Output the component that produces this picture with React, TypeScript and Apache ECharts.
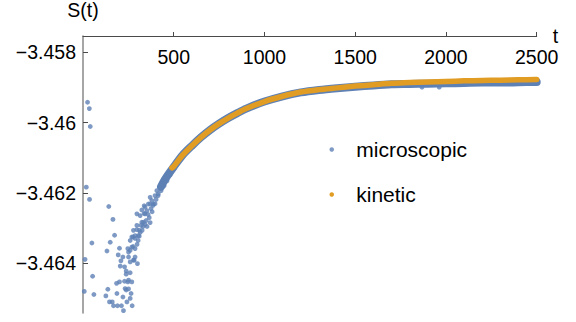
import React, { useEffect, useRef } from "react";
import * as echarts from "echarts";

// ---- data ----
const xTicks = [500, 1000, 1500, 2000, 2500];
const yTicks = [-3.464, -3.462, -3.46, -3.458];

// microscopic: scattered individual samples
const microT = [
  25, 35, 40, 18, 36, 49, 11, 53, 7, 60,
  142, 165, 174, 150, 132, 201, 194, 220, 209, 205,
  238, 185, 201, 229, 247, 137, 232, 251, 187, 265,
  126, 220, 260, 146, 161, 168, 190, 212, 271, 242,
  223, 238, 260, 229, 251, 238, 269, 282, 269, 260,
  278, 300, 251, 287, 247, 260, 278, 297, 275, 287,
  305, 311, 297, 320, 269, 260, 287, 251, 315, 297,
  324, 333, 342, 324, 337, 342, 352, 360, 370, 379,
  388, 370, 397, 407, 415, 425, 434, 443, 452, 470,
  480, 1868, 1963,
  276, 304, 315, 331, 348, 359, 375, 386, 403, 414,
  430, 447, 463, 480, 491, 310, 326, 342, 365, 381,
  397, 298, 287, 337, 353, 370,
];
const microS = [
  -3.45942, -3.4596, -3.46011, -3.46184, -3.46219, -3.46343, -3.4639, -3.46438, -3.46481, -3.4649,
  -3.46239, -3.46276, -3.46321, -3.46341, -3.46366, -3.46358, -3.46377, -3.46383, -3.46394, -3.46409,
  -3.46423, -3.46458, -3.46454, -3.46452, -3.46454, -3.46475, -3.46473, -3.46474, -3.46487, -3.46487,
  -3.46494, -3.46497, -3.46501, -3.46511, -3.46511, -3.46522, -3.46522, -3.46522, -3.46522, -3.46511,
  -3.46536, -3.46432, -3.46428, -3.46411, -3.46449, -3.46477, -3.46454, -3.46392, -3.46355, -3.46397,
  -3.46392, -3.46402, -3.46369, -3.46359, -3.46359, -3.46336, -3.46307, -3.46293, -3.46326, -3.46322,
  -3.46322, -3.46307, -3.46305, -3.46293, -3.46326, -3.46364, -3.46383, -3.46383, -3.46265, -3.4626,
  -3.46284, -3.46284, -3.4626, -3.46249, -3.46237, -3.46241, -3.46251, -3.46232, -3.46232, -3.46222,
  -3.46232, -3.46213, -3.46208, -3.46194, -3.46203, -3.46185, -3.46175, -3.4617, -3.46161, -3.46147,
  -3.46139, -3.45899, -3.45899,
  -3.46353, -3.46336, -3.46313, -3.46296, -3.46279, -3.46262, -3.46245, -3.46236, -3.46219, -3.46208,
  -3.46194, -3.4618, -3.46166, -3.46149, -3.46137, -3.46324, -3.46307, -3.4629, -3.46271, -3.46254,
  -3.46231, -3.46347, -3.4633, -3.46259, -3.46296, -3.46285,
];

// microscopic: the dense run of samples along the relaxation curve
const bandT = [430, 450, 500, 550, 600, 650, 700, 750, 800, 850, 900, 1000, 1100, 1200, 1300, 1400, 1500, 1600, 1700, 1800, 1900, 2000, 2100, 2200, 2300, 2400, 2500];
const bandS = [
  -3.46183, -3.46163, -3.46126, -3.46092, -3.46066, -3.46042, -3.46021, -3.46003, -3.45987, -3.45973,
  -3.4596, -3.4594, -3.45925, -3.45914, -3.45907, -3.45902, -3.45898, -3.45894, -3.45891, -3.4589,
  -3.45889, -3.45888, -3.45887, -3.45886, -3.45886, -3.45885, -3.45884,
];

// kinetic
const kinT = [490, 500, 550, 600, 650, 700, 750, 800, 850, 900, 1000, 1100, 1200, 1300, 1400, 1500, 1600, 1700, 1800, 1900, 2000, 2100, 2200, 2300, 2400, 2500];
const kinS = [
  -3.46129, -3.46125, -3.46092, -3.46066, -3.46042, -3.46021, -3.46003, -3.45987, -3.45973, -3.4596,
  -3.4594, -3.45925, -3.45913, -3.45906, -3.45901, -3.45896, -3.45892, -3.45888, -3.45886, -3.45884,
  -3.45883, -3.45881, -3.4588, -3.45879, -3.45878, -3.45877,
];

const BLUE = "#5E81B5";
const ORANGE = "#E19C24";
const FONT = "'Liberation Sans', Arial, sans-serif";

const zip = (a: number[], b: number[]) => a.map((v, i) => [v, b[i]]);

export default function App() {
  const ref = useRef<HTMLDivElement>(null);
  useEffect(() => {
    if (!ref.current) return;
    const chart = echarts.init(ref.current, null, { renderer: "svg" });
    chart.setOption({
      animation: false,
      backgroundColor: "#fff",
      grid: { left: 83, right: 39.3, top: 34.5, bottom: 9, containLabel: false },
      legend: {
        orient: "vertical",
        left: 324.5,
        top: 132.5,
        itemWidth: 39,
        itemHeight: 4.5,
        itemGap: 21,
        icon: "circle",
        data: ["microscopic", "kinetic"],
        textStyle: { fontSize: 21, fontFamily: FONT, color: "#000", lineHeight: 24 },
        selectedMode: false,
      },
      xAxis: {
        type: "value",
        position: "top",
        min: 0,
        max: 2500,
        name: "t",
        nameLocation: "end",
        nameGap: 16,
        nameTextStyle: { fontSize: 19.5, fontFamily: FONT, color: "#000", verticalAlign: "middle" },
        axisLine: { show: true, onZero: false, lineStyle: { color: "#4a4a4a", width: 1 } },
        axisTick: { show: true, inside: false, length: 4, customValues: xTicks, lineStyle: { color: "#4a4a4a" } },
        axisLabel: {
          inside: true,
          margin: 10.5,
          customValues: xTicks,
          fontSize: 19.5,
          fontFamily: FONT,
          color: "#000",
          formatter: (v: number) => String(v),
        },
        splitLine: { show: false },
      },
      yAxis: {
        type: "value",
        min: -3.465426,
        max: -3.457532,
        name: "S(t)",
        nameLocation: "end",
        nameGap: 16,
        nameTextStyle: { fontSize: 19.5, fontFamily: FONT, color: "#000" },
        axisLine: { show: true, onZero: false, lineStyle: { color: "#888", width: 1.5 } },
        axisTick: { show: true, inside: true, length: 5, customValues: yTicks, lineStyle: { color: "#4a4a4a" } },
        axisLabel: {
          margin: 7,
          customValues: yTicks,
          fontSize: 19.5,
          fontFamily: FONT,
          color: "#000",
          formatter: (v: number) => "\u2212" + Math.abs(v).toFixed(3).replace(/0+$/, ""),
        },
        splitLine: { show: false },
      },
      series: [
        {
          name: "microscopic",
          type: "scatter",
          data: zip(microT, microS),
          symbolSize: 4.8,
          itemStyle: { color: BLUE },
          silent: true,
        },
        {
          name: "microscopic",
          type: "line",
          data: zip(bandT, bandS),
          showSymbol: false,
          smooth: 0.3,
          itemStyle: { color: BLUE },
          lineStyle: { color: BLUE, width: 8, cap: "round", join: "round" },
          silent: true,
        },
        {
          name: "kinetic",
          type: "line",
          data: zip(kinT, kinS),
          showSymbol: false,
          smooth: 0.3,
          itemStyle: { color: ORANGE },
          lineStyle: { color: ORANGE, width: 5.5, cap: "round", join: "round" },
          silent: true,
        },
      ],
    });
    return () => chart.dispose();
  }, []);
  return (
    <div style={{ position: "fixed", left: 0, top: 0, width: 576, height: 322, background: "#fff" }}>
      <div ref={ref} style={{ width: 576, height: 322 }} />
    </div>
  );
}
